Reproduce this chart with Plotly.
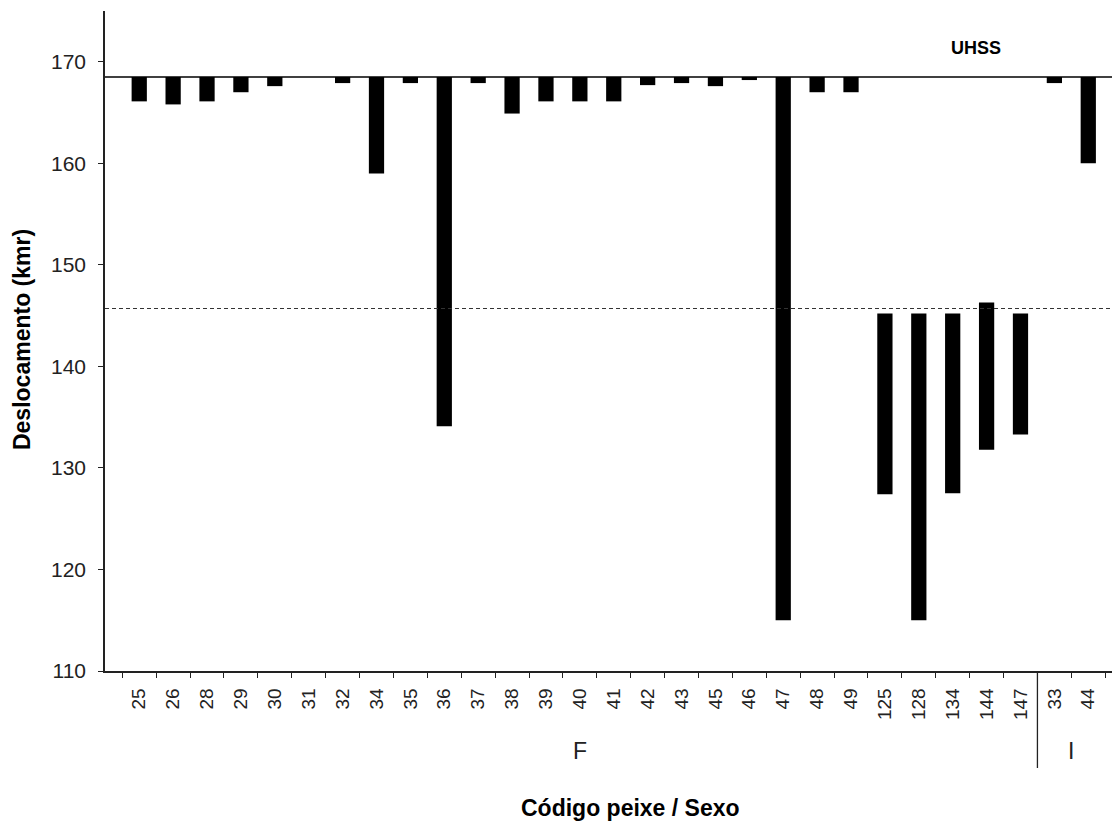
import plotly.graph_objects as go

# Data
fish_codes = ["25", "26", "28", "29", "30", "31", "32", "34", "35", "36", "37", "38", "39", "40",
              "41", "42", "43", "45", "46", "47", "48", "49", "125", "128", "134", "144", "147",
              "33", "44"]
sex = ["F"] * 27 + ["I"] * 2
bar_top = [168.5] * 22 + [145.2, 145.2, 145.2, 146.3, 145.2] + [168.5, 168.5]
bar_bottom = [166.1, 165.8, 166.1, 167.0, 167.6, 168.5, 167.9, 159.0, 167.9, 134.1, 167.9, 164.9,
              166.1, 166.1, 166.1, 167.7, 167.9, 167.6, 168.2, 115.0, 167.0, 167.0,
              127.4, 115.0, 127.5, 131.8, 133.3, 167.9, 160.0]
uhss_level = 168.5
dashed_level = 145.7
y_ticks = [110, 120, 130, 140, 150, 160, 170]

FONT = "Liberation Sans, Arial, sans-serif"

fig = go.Figure()
fig.add_trace(go.Bar(
    x=fish_codes,
    base=bar_top,
    y=[b - t for b, t in zip(bar_bottom, bar_top)],
    width=0.45,
    marker=dict(color="black", line=dict(width=0)),
    showlegend=False,
    hoverinfo="skip",
))

fig.add_hline(y=uhss_level, line=dict(color="black", width=1.5))
fig.add_hline(y=dashed_level, line=dict(color="#333333", width=1.2, dash="4px,3px"))

# Separator between sex groups
n_f = sex.count("F")
fig.add_shape(type="line", xref="x", yref="paper", x0=n_f - 0.5, x1=n_f - 0.5, y0=0, y1=-0.147,
              line=dict(color="#222222", width=1.3))

# Group labels
for g in ["F", "I"]:
    idx = [i for i, s in enumerate(sex) if s == g]
    fig.add_annotation(x=(idx[0] + idx[-1]) / 2, xref="x", y=-0.121, yref="paper",
                       text=g, showarrow=False, yanchor="middle",
                       font=dict(family=FONT, size=23, color="#222222"))

fig.add_annotation(x=24.7, xref="x", y=171.4, yref="y", text="<b>UHSS</b>", showarrow=False,
                   font=dict(family=FONT, size=18, color="black"))

fig.add_annotation(x=0.522, xref="paper", y=-0.2076, yref="paper", text="<b>Código peixe / Sexo</b>",
                   showarrow=False, yanchor="middle", font=dict(family=FONT, size=23, color="black"))
fig.add_annotation(x=-0.0824, xref="paper", y=0.5015, yref="paper", text="<b>Deslocamento (kmr)</b>",
                   showarrow=False, textangle=-90, xanchor="center", yanchor="middle",
                   font=dict(family=FONT, size=23, color="black"))

fig.update_xaxes(
    type="category", categoryorder="array", categoryarray=fish_codes,
    range=[-1.01, 28.7], tickson="boundaries", ticks="outside", ticklen=5,
    tickcolor="#222222", tickwidth=1.3, tickangle=-90, ticklabelstandoff=8,
    showline=True, linecolor="#222222", linewidth=1.5, showgrid=False, zeroline=False,
    tickfont=dict(family=FONT, size=19, color="#222222"),
)
fig.update_yaxes(
    range=[110, 175], tickvals=y_ticks, ticks="outside", ticklen=5,
    tickcolor="#222222", tickwidth=1.3, ticklabelstandoff=8,
    showline=True, linecolor="#222222", linewidth=1.5, showgrid=False, zeroline=False,
    tickfont=dict(family=FONT, size=21, color="#222222"),
)

fig.update_layout(
    width=1118, height=823,
    margin=dict(l=105, r=6, t=11, b=152),
    plot_bgcolor="white", paper_bgcolor="white",
    bargap=0.55,
)

fig.write_html("out.html")
